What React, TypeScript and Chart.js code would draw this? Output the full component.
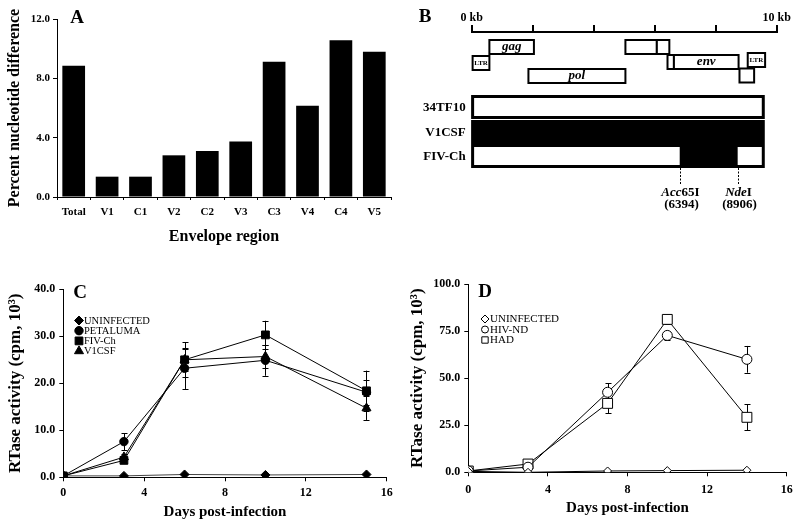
import React, { useEffect, useRef } from 'react';
import { Chart, registerables } from 'chart.js';
import * as helpers from 'chart.js/helpers';

Chart.register(...registerables);

const FONT = '"Liberation Serif", "Times New Roman", Times, serif';

// ---------- Panel A ----------
const regions = ['Total', 'V1', 'C1', 'V2', 'C2', 'V3', 'C3', 'V4', 'C4', 'V5'];
const pctDiff = [8.85, 1.37, 1.37, 2.81, 3.1, 3.75, 9.12, 6.16, 10.56, 9.8];

// ---------- Panel B (kb positions) ----------
const geneLabels = ['LTR', 'gag', 'pol', '', '', '', 'env', '', 'LTR'];
const geneStart = [0.03, 0.58, 1.86, 5.04, 6.07, 6.42, 6.63, 8.78, 9.05];
const geneEnd = [0.58, 2.04, 5.04, 6.07, 6.48, 6.63, 8.75, 9.26, 9.62];
const geneTrack = [3.1, 1.5, 4.4, 1.5, 1.5, 3.0, 3.0, 4.35, 2.8];
const strainNames = ['34TF10', 'V1CSF', 'FIV-Ch'];
const strainRow = [7.5, 10.0, 12.4];
const genomeStart = 0.03;
const genomeEnd = 9.56;
const siteItalic = ['Acc', 'Nde'];
const siteRoman = ['65I', 'I'];
const siteNt = ['(6394)', '(8906)'];
const siteKb = [6.82, 8.72];

// ---------- Panel C ----------
const daysC = [0, 3, 6, 10, 15];
const uninfC = [0.3, 0.3, 0.6, 0.5, 0.6];
const petaluma = [0.3, 7.6, 23.2, 24.9, 18.1];
const petalumaErr = [0, 1.8, 4.4, 3.3, 2.7];
const fivCh = [0.3, 3.6, 25.0, 30.3, 18.4];
const fivChErr = [0, 0.6, 3.7, 3.0, 4.3];
const v1csf = [0.3, 4.3, 25.0, 25.7, 14.7];
const v1csfErr = [0, 0.7, 2.4, 2.5, 2.5];

// ---------- Panel D ----------
const daysD = [0, 3, 7, 10, 14];
const uninfD = [0.5, 0.0, 0.7, 0.9, 1.1];
const hivNd = [0.7, 2.7, 42.5, 72.7, 60.0];
const hivNdErr = [0, 0, 4.8, 2.4, 7.1];
const had = [0.7, 4.4, 36.6, 81.2, 29.2];
const hadErr = [0, 0, 5.3, 2.3, 7.0];

const bold = (size: number) => ({ family: FONT, size, weight: 'bold' as const });

function letterPlugin(letter: string, x: number, y: number) {
  return {
    id: 'letter' + letter,
    afterDraw(chart: any) {
      const ctx = chart.ctx;
      ctx.save();
      ctx.fillStyle = '#000';
      ctx.font = `bold 19px ${FONT}`;
      ctx.textAlign = 'center';
      ctx.textBaseline = 'middle';
      ctx.fillText(letter, x, y);
      ctx.restore();
    },
  };
}

const errorBarPlugin = {
  id: 'errorBars',
  beforeDatasetsDraw(chart: any) {
    const ctx = chart.ctx;
    const xs = chart.scales.x;
    const ys = chart.scales.y;
    ctx.save();
    ctx.strokeStyle = '#000';
    ctx.lineWidth = 1;
    chart.data.datasets.forEach((ds: any) => {
      if (!ds.errorBars) return;
      ds.data.forEach((p: any, i: number) => {
        const e = ds.errorBars[i];
        if (!e) return;
        const px = Math.round(xs.getPixelForValue(p.x)) + 0.5;
        const y1 = ys.getPixelForValue(p.y + e);
        const y2 = ys.getPixelForValue(p.y - e);
        ctx.beginPath();
        ctx.moveTo(px, y1);
        ctx.lineTo(px, y2);
        ctx.moveTo(px - 3, Math.round(y1) + 0.5);
        ctx.lineTo(px + 3, Math.round(y1) + 0.5);
        ctx.moveTo(px - 3, Math.round(y2) + 0.5);
        ctx.lineTo(px + 3, Math.round(y2) + 0.5);
        ctx.stroke();
      });
    });
    ctx.restore();
  },
};

function legendPlugin(x: number, y: number, step: number, size: number) {
  return {
    id: 'customLegend',
    afterDraw(chart: any) {
      const ctx = chart.ctx;
      ctx.save();
      chart.data.datasets.forEach((ds: any, i: number) => {
        const yy = y + i * step;
        ctx.fillStyle = ds.pointBackgroundColor;
        ctx.strokeStyle = '#000';
        ctx.lineWidth = 1;
        helpers.drawPoint(ctx, { pointStyle: ds.pointStyle, radius: ds.legendRadius, borderWidth: 1 }, x, yy);
        ctx.fillStyle = '#000';
        ctx.font = `${size}px ${FONT}`;
        ctx.textAlign = 'left';
        ctx.textBaseline = 'middle';
        ctx.fillText(ds.label, x + 5, yy + 0.5);
      });
      ctx.restore();
    },
  };
}

const genomePlugin = {
  id: 'genome',
  afterDraw(chart: any) {
    const ctx = chart.ctx;
    const xs = chart.scales.x;
    const ys = chart.scales.y;
    const X = (v: number) => xs.getPixelForValue(v);
    const Y = (v: number) => ys.getPixelForValue(v);
    ctx.save();
    // gene boxes
    ctx.lineWidth = 2;
    ctx.strokeStyle = '#000';
    for (let i = 0; i < geneStart.length; i++) {
      const x1 = X(geneStart[i]);
      const x2 = X(geneEnd[i]);
      const y1 = Y(geneTrack[i] - 0.7);
      const y2 = Y(geneTrack[i] + 0.7);
      ctx.fillStyle = '#fff';
      ctx.fillRect(x1, y1, x2 - x1, y2 - y1);
      ctx.strokeRect(x1, y1, x2 - x1, y2 - y1);
      const lab = geneLabels[i];
      if (lab) {
        ctx.fillStyle = '#000';
        ctx.textAlign = 'center';
        ctx.textBaseline = 'middle';
        ctx.font = lab === 'LTR' ? `bold 7px ${FONT}` : `italic bold 13px ${FONT}`;
        ctx.fillText(lab, (x1 + x2) / 2, (y1 + y2) / 2);
      }
    }
    // strain bars
    for (let r = 0; r < strainNames.length; r++) {
      const x1 = X(genomeStart);
      const x2 = X(genomeEnd);
      const y1 = Y(strainRow[r] - 1.05);
      const y2 = Y(strainRow[r] + 1.05);
      ctx.lineWidth = 3;
      if (strainNames[r] === 'V1CSF') {
        ctx.fillStyle = '#000';
        ctx.fillRect(x1, y1, x2 - x1, y2 - y1);
      } else {
        ctx.fillStyle = '#fff';
        ctx.fillRect(x1, y1, x2 - x1, y2 - y1);
        if (strainNames[r] === 'FIV-Ch') {
          ctx.fillStyle = '#000';
          ctx.fillRect(X(siteKb[0]), y1, X(siteKb[1]) - X(siteKb[0]), y2 - y1);
        }
      }
      ctx.strokeRect(x1, y1, x2 - x1, y2 - y1);
      ctx.fillStyle = '#000';
      ctx.font = `bold 13px ${FONT}`;
      ctx.textAlign = 'right';
      ctx.textBaseline = 'middle';
      ctx.fillText(strainNames[r], X(0) - 6, (y1 + y2) / 2 + 1);
    }
    // restriction sites
    for (let s = 0; s < siteKb.length; s++) {
      const px = Math.round(X(siteKb[s])) + 0.5;
      ctx.strokeStyle = '#000';
      ctx.lineWidth = 1;
      ctx.setLineDash([2, 1.5]);
      ctx.beginPath();
      ctx.moveTo(px, Y(13.6));
      ctx.lineTo(px, Y(15.3));
      ctx.stroke();
      ctx.setLineDash([]);
      ctx.fillStyle = '#000';
      ctx.textBaseline = 'middle';
      ctx.textAlign = 'left';
      const fi = `italic bold 13px ${FONT}`;
      const fr = `bold 13px ${FONT}`;
      ctx.font = fi;
      const w1 = ctx.measureText(siteItalic[s]).width;
      ctx.font = fr;
      const w2 = ctx.measureText(siteRoman[s]).width;
      const start = px - (w1 + w2) / 2;
      ctx.font = fi;
      ctx.fillText(siteItalic[s], start, Y(16.1));
      ctx.font = fr;
      ctx.fillText(siteRoman[s], start + w1, Y(16.1));
      ctx.textAlign = 'center';
      ctx.fillText(siteNt[s], px + 1, Y(17.3));
    }
    ctx.restore();
  },
};

const toXY = (xs: number[], ys: number[]) => xs.map((x, i) => ({ x, y: ys[i] }));

function lineScales(
  ymax: number,
  ystep: number,
  yTitleW: number,
  xTitleH: number,
  xPad: number
) {
  return {
    x: {
      type: 'linear' as const,
      min: 0,
      max: 16,
      ticks: { stepSize: 4, font: bold(12), color: '#000', padding: xPad, maxRotation: 0 },
      grid: { drawOnChartArea: false, tickLength: 4, color: '#000' },
      border: { color: '#000', width: 1 },
      title: { display: true, text: 'Days post-infection', font: bold(15), color: '#000', padding: 0 },
      afterFit: (s: any) => {
        s.height = xTitleH;
      },
    },
    y: {
      min: 0,
      max: ymax,
      ticks: {
        stepSize: ystep,
        font: bold(12),
        color: '#000',
        padding: 4,
        callback: (v: any) => Number(v).toFixed(1),
      },
      grid: { drawOnChartArea: false, tickLength: 4, color: '#000' },
      border: { color: '#000', width: 1 },
      title: { display: true, text: 'RTase activity (cpm, 10³)', font: bold(17), color: '#000', padding: 0 },
      afterFit: (s: any) => {
        s.width = yTitleW;
      },
    },
  };
}

function ptDs(label: string, xs: number[], ys: number[], style: string, r: number, fill: string, errs?: number[]) {
  return {
    label,
    data: toXY(xs, ys),
    borderColor: '#000',
    borderWidth: 1,
    pointStyle: style,
    pointRadius: r,
    legendRadius: r,
    pointBackgroundColor: fill,
    pointBorderColor: '#000',
    pointBorderWidth: 1,
    fill: false,
    tension: 0,
    errorBars: errs,
  };
}

export default function App() {
  const refA = useRef<HTMLCanvasElement>(null);
  const refB = useRef<HTMLCanvasElement>(null);
  const refC = useRef<HTMLCanvasElement>(null);
  const refD = useRef<HTMLCanvasElement>(null);

  useEffect(() => {
    document.body.style.margin = '0';
    const base = {
      responsive: false,
      animation: false as const,
      devicePixelRatio: 1,
      events: [] as any[],
    };
    const charts: Chart[] = [];

    // Panel A
    charts.push(
      new Chart(refA.current!, {
        type: 'bar',
        data: {
          labels: regions,
          datasets: [{ data: pctDiff, backgroundColor: '#000', barPercentage: 0.68, categoryPercentage: 1 }],
        },
        options: {
          ...base,
          layout: { padding: { left: 4.9, right: 409, top: 19, bottom: 277.4 } },
          plugins: { legend: { display: false }, tooltip: { enabled: false } },
          scales: {
            x: {
              grid: { drawOnChartArea: false, tickLength: 3, color: '#000', offset: true },
              border: { color: '#000', width: 1 },
              ticks: { font: bold(11), color: '#000', padding: 5.4, maxRotation: 0, autoSkip: false },
              title: { display: true, text: 'Envelope region', font: bold(16), color: '#000', padding: 0 },
              afterFit: (s: any) => {
                s.height = 49.6;
              },
            },
            y: {
              min: 0,
              max: 12,
              ticks: { stepSize: 4, font: bold(11), color: '#000', padding: 3, callback: (v: any) => Number(v).toFixed(1) },
              grid: { drawOnChartArea: false, tickLength: 4, color: '#000' },
              border: { color: '#000', width: 1 },
              title: { display: true, text: 'Percent nucleotide difference', font: bold(16), color: '#000', padding: 0 },
              afterFit: (s: any) => {
                s.width = 52.1;
              },
            },
          },
        } as any,
        plugins: [letterPlugin('A', 77, 18)],
      })
    );

    // Panel B
    charts.push(
      new Chart(refB.current!, {
        type: 'scatter',
        data: { datasets: [] },
        options: {
          ...base,
          layout: { padding: { left: 471.7, right: 23.3, top: 2, bottom: 312 } },
          plugins: { legend: { display: false }, tooltip: { enabled: false } },
          scales: {
            x: {
              type: 'linear',
              position: 'top',
              min: 0,
              max: 10,
              ticks: {
                stepSize: 2,
                font: bold(12),
                color: '#000',
                padding: 0,
                maxRotation: 0,
                callback: (v: any) => (v === 0 || v === 10 ? `${v} kb` : ''),
              },
              grid: { drawOnChartArea: false, tickLength: 7, color: '#000', lineWidth: 2 },
              border: { color: '#000', width: 2 },
              afterFit: (s: any) => {
                s.height = 30;
              },
            },
            y: { display: false, min: 0, max: 18, reverse: true },
          },
        } as any,
        plugins: [genomePlugin, letterPlugin('B', 425, 17)],
      })
    );

    // Panel C
    charts.push(
      new Chart(refC.current!, {
        type: 'line',
        data: {
          datasets: [
            { ...ptDs('UNINFECTED', daysC, uninfC, 'rectRot', 4.5, '#000'), borderColor: '#444' },
            ptDs('PETALUMA', daysC, petaluma, 'circle', 4.2, '#000', petalumaErr),
            ptDs('FIV-Ch', daysC, fivCh, 'rect', 5.5, '#000', fivChErr),
            ptDs('V1CSF', daysC, v1csf, 'triangle', 5.2, '#000', v1csfErr),
          ] as any,
        },
        options: {
          ...base,
          layout: { padding: { left: 5.3, right: 413.3, top: 289.3, bottom: 3.3 } },
          plugins: { legend: { display: false }, tooltip: { enabled: false } },
          scales: lineScales(40, 10, 58, 43.4, 4.8),
        } as any,
        plugins: [errorBarPlugin, legendPlugin(79, 320.5, 10.2, 10.5), letterPlugin('C', 80, 293)],
      })
    );

    // Panel D
    charts.push(
      new Chart(refD.current!, {
        type: 'line',
        data: {
          datasets: [
            ptDs('UNINFECTED', daysD, uninfD, 'rectRot', 4, '#fff'),
            ptDs('HIV-ND', daysD, hivNd, 'circle', 5, '#fff', hivNdErr),
            ptDs('HAD', daysD, had, 'rect', 7, '#fff', hadErr),
          ].map((d: any, i: number) => ({ ...d, legendRadius: [4, 3.5, 4.5][i] })) as any,
        },
        options: {
          ...base,
          layout: { padding: { left: 407.8, right: 13.3, top: 284, bottom: 6.7 } },
          plugins: { legend: { display: false }, tooltip: { enabled: false } },
          scales: lineScales(100, 25, 60.5, 45, 6.5),
        } as any,
        plugins: [errorBarPlugin, legendPlugin(485, 319, 10.5, 11), letterPlugin('D', 485, 292)],
      })
    );

    return () => charts.forEach((c) => c.destroy());
  }, []);

  const cs: React.CSSProperties = { position: 'absolute', left: 0, top: 0 };
  return (
    <div style={{ position: 'fixed', left: 0, top: 0, width: 800, height: 524, background: '#fff' }}>
      <canvas ref={refA} width={800} height={524} style={cs} />
      <canvas ref={refB} width={800} height={524} style={cs} />
      <canvas ref={refC} width={800} height={524} style={cs} />
      <canvas ref={refD} width={800} height={524} style={cs} />
    </div>
  );
}
